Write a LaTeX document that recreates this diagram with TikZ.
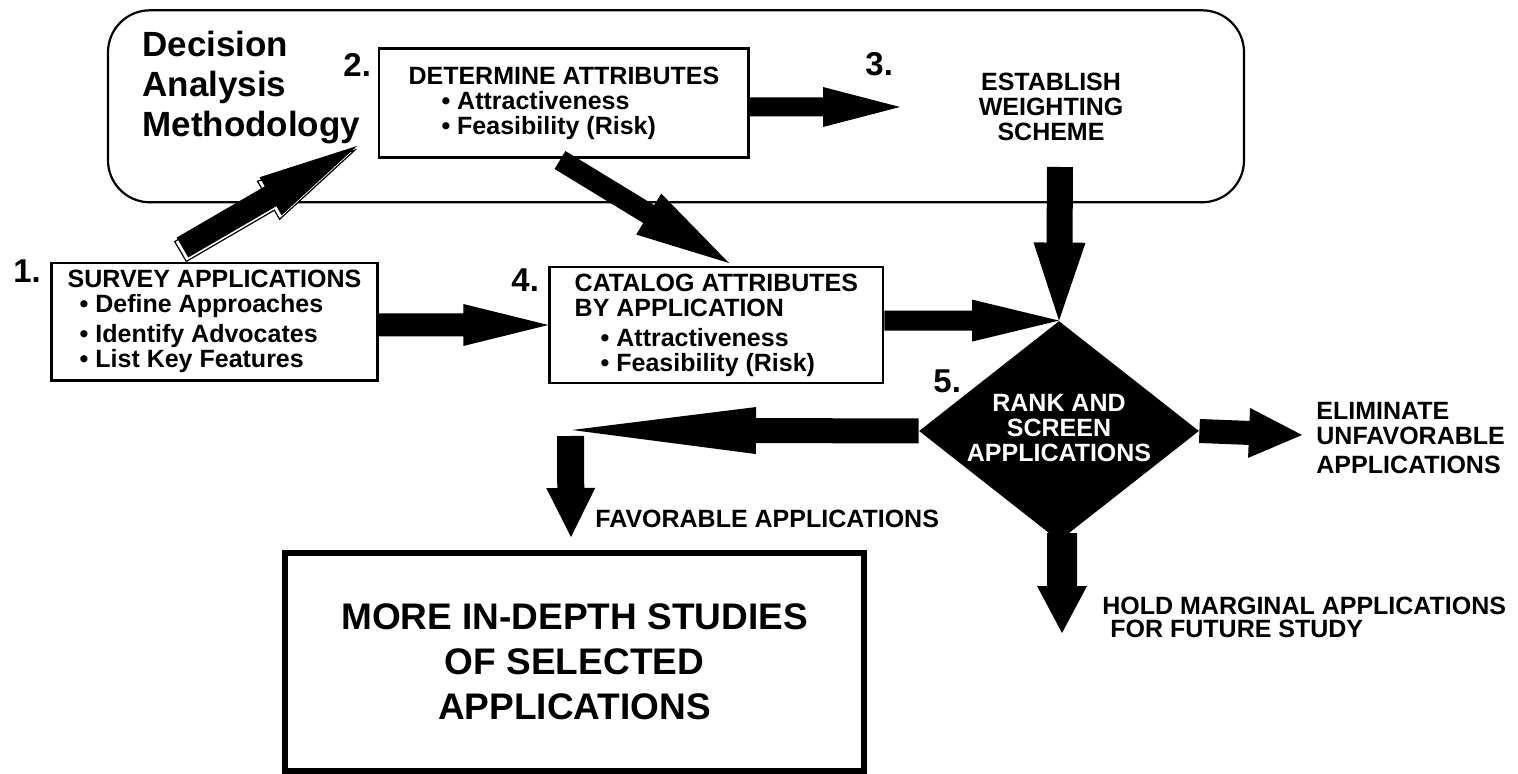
\documentclass[tikz,border=0pt]{standalone}
\usepackage{fontspec}
\setmainfont{Liberation Sans}
\usetikzlibrary{shapes.geometric, calc, positioning}

\newcommand{\bodyfont}{\bfseries\fontsize{12.5}{12.5}\selectfont}
\newcommand{\stepfont}{\bfseries\fontsize{16.5}{16.5}\selectfont}
\newcommand{\titlefont}{\bfseries\fontsize{17.5}{20}\selectfont}
\newcommand{\studyfont}{\bfseries\fontsize{18.5}{22.5}\selectfont}

% block arrow: [options]{from}{to}{shaft half width}{head half width}{head length}
\newcommand{\fatarrow}[6][]{%
  \coordinate (fa-base) at ($(#3)!#6!(#2)$);
  \fill[#1] ($(#2)!#4!90:(#3)$) -- ($(fa-base)!#4!90:(#3)$) -- ($(fa-base)!#5!90:(#3)$)
    -- (#3) -- ($(fa-base)!#5!-90:(#3)$) -- ($(fa-base)!#4!-90:(#3)$) -- ($(#2)!#4!-90:(#3)$) -- cycle;}

\begin{document}
\begin{tikzpicture}[x=0.5pt, y=-0.5pt,
        box/.style={draw, line width=1.4pt, inner sep=0pt, align=left, font=\bodyfont},
        steplabel/.style={anchor=base west, inner sep=0pt, font=\stepfont},
        note/.style={anchor=north west, inner sep=0pt, align=left, font=\bodyfont},
        rankbox/.style={diamond, fill=black, inner sep=0pt, minimum width=140pt, minimum height=110pt}
    ]
        \useasboundingbox (0,0) rectangle (1518,774);

        % Methodology frame
        \node[draw, line width=1.1pt, rounded corners=21pt, minimum width=568pt, minimum height=96pt] (frame) at (676,106.3) {};
        \node[note, font=\titlefont] (method) at (142,31) {Decision\\Analysis\\Methodology};

        % Steps
        \node[box, minimum width=163pt, minimum height=58.75pt] (survey) at (214.5,321.75)
            {SURVEY APPLICATIONS\\ \hspace*{6pt}• Define Approaches\\[2.5pt] \hspace*{6pt}• Identify Advocates\\ \hspace*{6pt}• List Key Features};
        \node[box, minimum width=184.85pt, minimum height=54.4pt] (determine) at (563.85,103.1)
            {DETERMINE ATTRIBUTES\\ \hspace*{16.5pt}• Attractiveness\\ \hspace*{16.5pt}• Feasibility (Risk)};
        \node[note, anchor=north, align=center] (weight) at (1051,73) {ESTABLISH\\WEIGHTING\\SCHEME};
        \node[box, minimum width=166.65pt, minimum height=58pt] (catalog) at (716.35,325)
            {CATALOG ATTRIBUTES\\BY APPLICATION\\[2.5pt] \hspace*{13pt}• Attractiveness\\ \hspace*{13pt}• Feasibility (Risk)};
        \node[rankbox] (rank) at (1059,431) {};
        \node[box, line width=2.6pt, align=center, font=\studyfont, minimum width=289.5pt, minimum height=109pt] (study) at (574.5,662)
            {MORE IN-DEPTH STUDIES\\OF SELECTED\\APPLICATIONS};

        % Step numbers
        \node[steplabel] (n1) at (13,283) {1.};
        \node[steplabel] (n2) at (343,77) {2.};
        \node[steplabel] (n3) at (865,76) {3.};
        \node[steplabel] (n4) at (511,292) {4.};
        \node[steplabel] (n5) at (933,393) {5.};

        % Outcomes
        \node[note] (elim) at (1316,402) {ELIMINATE\\UNFAVORABLE\\[2pt]APPLICATIONS};
        \node[note] (hold) at (1102,597) {HOLD MARGINAL APPLICATIONS\\[-1pt] \hspace*{4pt}FOR FUTURE STUDY};
        \node[note, anchor=base west] (fav) at (595,527) {FAVORABLE APPLICATIONS};

        % Arrow ends
        \coordinate (a1) at (survey.east |- catalog.west);
        \coordinate (p3) at (900,107);
        \coordinate (a2) at (determine.east |- p3);
        \coordinate (w0) at (1060,167);
        \coordinate (c0) at (560,160);
        \coordinate (c1) at (729,263);
        \coordinate (s0) at (182.5,247.5);
        \coordinate (s1) at (357,146);
        \coordinate (l1) at (572,430);
        \coordinate (f0) at (570.5,436);
        \coordinate (f1) at (571,537);
        \coordinate (e1) at (1302,435);
        \coordinate (h0) at (1062,533);
        \coordinate (h1) at (1062,633);
        \coordinate (r4) at (catalog.east |- rank.north);

        % Arrows
        \begin{scope}[transform canvas={shift={(-1pt,-2pt)}}]
            \fatarrow[fill=white, draw=black, line width=0.6pt]{s0}{s1}{5.75pt}{11pt}{50pt}
        \end{scope}
        \fatarrow{s0}{s1}{5.75pt}{11pt}{50pt}
        \fatarrow{a1}{catalog.west}{5.75pt}{10.5pt}{42.5pt}
        \fatarrow{a2}{p3}{4.75pt}{10pt}{38.5pt}
        \fatarrow{c0}{c1}{5.25pt}{12pt}{47pt}
        \fatarrow{r4}{rank.north}{5pt}{10.5pt}{43.5pt}
        \fatarrow{w0}{rank.north}{6.5pt}{13pt}{39pt}
        \fatarrow{rank.west}{l1}{6.25pt}{11.75pt}{92pt}
        \fatarrow{f0}{f1}{6.75pt}{12.25pt}{24.5pt}
        \fatarrow{rank.east}{e1}{6pt}{12.5pt}{26.5pt}
        \fatarrow{h0}{h1}{7.5pt}{12.5pt}{23.5pt}

        \node[note, anchor=north, align=center, text=white] (ranktext) at (1059,394) {RANK AND\\SCREEN\\APPLICATIONS};
    \end{tikzpicture}
\end{document}
